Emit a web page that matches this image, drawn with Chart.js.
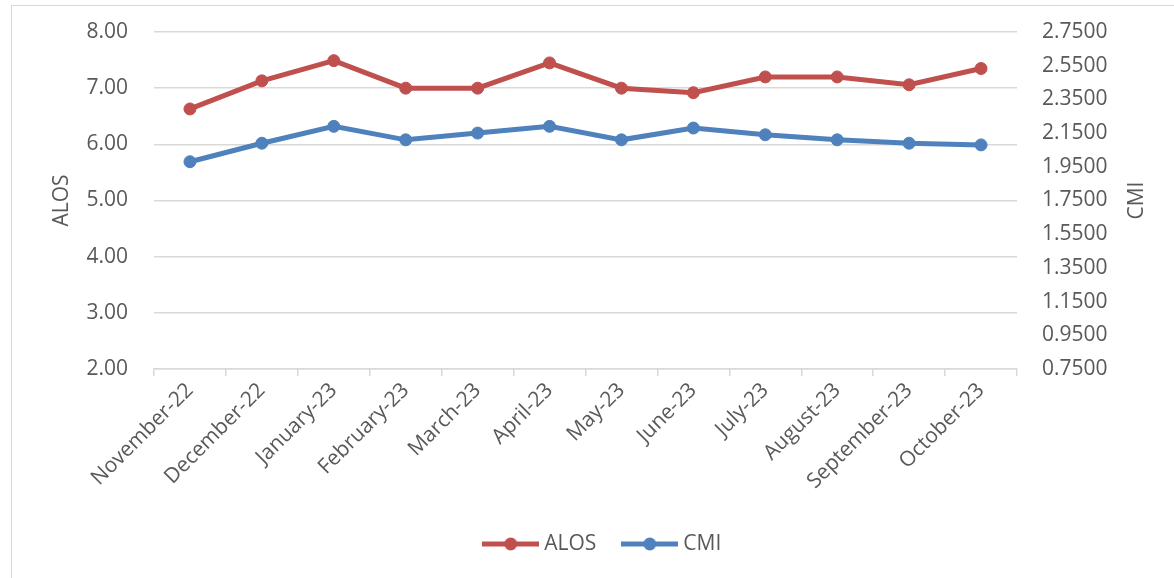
<!DOCTYPE html>
<html>
<head>
<meta charset="utf-8">
<script src="https://cdn.jsdelivr.net/npm/chart.js@4.4.1/dist/chart.umd.min.js"></script>
<style>
  html, body { margin: 0; padding: 0; background: #ffffff; overflow: hidden; }
  #frame { position: absolute; left: 11px; top: 5px; width: 1400px; height: 800px; border: 1px solid #d9d9d9; box-sizing: border-box; }
  #wrap { position: absolute; left: 0; top: 0; width: 1174px; height: 578px; }
</style>
</head>
<body>
<div id="frame"></div>
<div id="wrap"><canvas id="c" width="1174" height="578"></canvas></div>
<script>
const categories = ["November-22", "December-22", "January-23", "February-23", "March-23", "April-23",
                    "May-23", "June-23", "July-23", "August-23", "September-23", "October-23"];
const alosValues = [6.63, 7.13, 7.49, 7.00, 7.00, 7.45, 7.00, 6.92, 7.20, 7.20, 7.06, 7.35];
const cmiValues  = [1.98, 2.09, 2.19, 2.11, 2.15, 2.19, 2.11, 2.18, 2.14, 2.11, 2.09, 2.08];
const alosTicks = [2, 3, 4, 5, 6, 7, 8];
const cmiTicks  = [0.75, 0.95, 1.15, 1.35, 1.55, 1.75, 1.95, 2.15, 2.35, 2.55, 2.75];
const alosTitle = "ALOS";
const cmiTitle = "CMI";

const RED = "#C0504D";
const BLUE = "#4F81BD";
const TEXT = "#595959";
const GRID = "#d9d9d9";
const FONT = "'Open Sans', sans-serif";
const FS = 21;

function legendMarker(color) {
  const c = document.createElement("canvas");
  c.width = 57; c.height = 14;
  const g = c.getContext("2d");
  g.strokeStyle = color; g.lineWidth = 5; g.lineCap = "butt";
  g.beginPath(); g.moveTo(0, 7); g.lineTo(57, 7); g.stroke();
  g.fillStyle = color;
  g.beginPath(); g.arc(28.5, 7, 6.5, 0, Math.PI * 2); g.fill();
  return c;
}
const markers = [legendMarker(RED), legendMarker(BLUE)];

const rightTitle = {
  id: "rightTitle",
  afterLayout(chart) {
    if (chart.legend) { chart.legend.left += 17.5; chart.legend.right += 17.5; }
  },
  afterDraw(chart) {
    const s = chart.scales.y1;
    const ctx = chart.ctx;
    ctx.save();
    ctx.translate(s.right - 37, (chart.chartArea.top + chart.chartArea.bottom) / 2);
    ctx.rotate(-Math.PI / 2);
    ctx.font = FS + "px " + FONT;
    ctx.fillStyle = TEXT;
    ctx.textAlign = "center";
    ctx.textBaseline = "middle";
    ctx.fillText(cmiTitle, 0, 0);
    ctx.restore();
  }
};

new Chart(document.getElementById("c"), {
  type: "line",
  data: {
    labels: categories,
    datasets: [
      { label: "ALOS", data: alosValues, yAxisID: "y", borderColor: RED, backgroundColor: RED,
        borderWidth: 5, pointRadius: 6, pointBorderWidth: 1, pointBackgroundColor: RED, pointBorderColor: RED,
        tension: 0, fill: false },
      { label: "CMI", data: cmiValues, yAxisID: "y1", borderColor: BLUE, backgroundColor: BLUE,
        borderWidth: 5, pointRadius: 6, pointBorderWidth: 1, pointBackgroundColor: BLUE, pointBorderColor: BLUE,
        tension: 0, fill: false }
    ]
  },
  options: {
    responsive: false,
    animation: false,
    devicePixelRatio: 1,
    layout: { padding: { left: 0, right: 0, top: 32, bottom: 13.5 } },
    plugins: {
      tooltip: { enabled: false },
      legend: {
        position: "bottom",
        labels: {
          usePointStyle: true,
          pointStyleWidth: 46,
          padding: 30.5,
          color: TEXT,
          font: { family: FONT, size: FS },
          generateLabels(chart) {
            return chart.data.datasets.map((d, i) => ({
              text: d.label, datasetIndex: i, pointStyle: markers[i],
              fillStyle: d.borderColor, strokeStyle: d.borderColor, lineWidth: 0,
              fontColor: TEXT, hidden: false
            }));
          }
        }
      }
    },
    scales: {
      x: {
        offset: true,
        afterFit(s) { s.height = 134; },
        grid: { display: true, drawOnChartArea: false, drawTicks: true, tickLength: 7, offset: true, color: GRID, lineWidth: 1.5 },
        border: { display: true, color: GRID, width: 1.5 },
        ticks: { color: TEXT, font: { family: FONT, size: FS }, minRotation: 45, maxRotation: 45, autoSkip: false, padding: 2 }
      },
      y: {
        position: "left",
        min: 2, max: 8,
        afterFit(s) { s.width = 154; s.paddingTop = 0; s.paddingBottom = 0; },
        afterBuildTicks(s) { s.ticks = alosTicks.map(v => ({ value: v })); },
        grid: { color: GRID, lineWidth: 1.5, drawTicks: false },
        border: { display: false },
        ticks: { color: TEXT, font: { family: FONT, size: FS }, padding: 26, callback: v => Number(v).toFixed(2) },
        title: { display: true, text: alosTitle, color: TEXT, font: { family: FONT, size: FS }, padding: { top: 49.4, bottom: 0 } }
      },
      y1: {
        position: "right",
        min: 0.75, max: 2.75,
        afterFit(s) { s.width = 157; s.paddingTop = 0; s.paddingBottom = 0; },
        afterBuildTicks(s) { s.ticks = cmiTicks.map(v => ({ value: v })); },
        grid: { drawOnChartArea: false, drawTicks: false },
        border: { display: false },
        ticks: { color: TEXT, font: { family: FONT, size: FS }, padding: 25, callback: v => Number(v).toFixed(4) }
      }
    }
  },
  plugins: [rightTitle]
});
</script>
</body>
</html>
